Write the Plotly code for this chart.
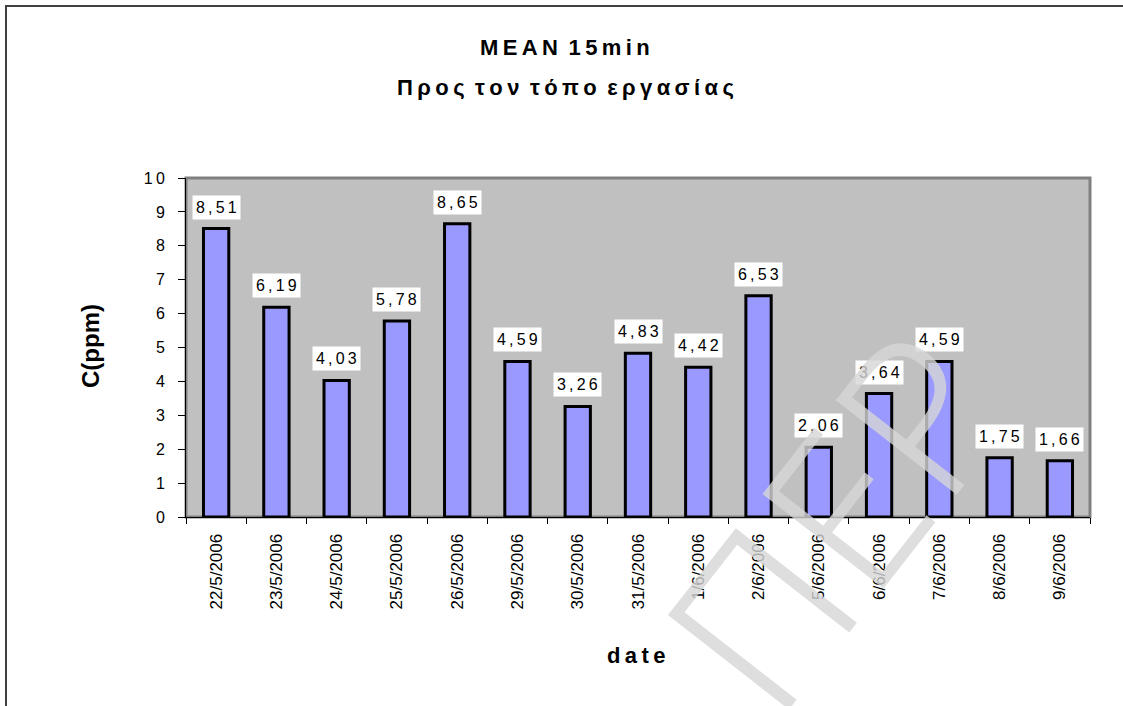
import plotly.graph_objects as go

# Daily mean 15-min concentrations at the workplace
dates = ["22/5/2006", "23/5/2006", "24/5/2006", "25/5/2006", "26/5/2006",
         "29/5/2006", "30/5/2006", "31/5/2006", "1/6/2006", "2/6/2006",
         "5/6/2006", "6/6/2006", "7/6/2006", "8/6/2006", "9/6/2006"]
conc_ppm = [8.51, 6.19, 4.03, 5.78, 8.65, 4.59, 3.26, 4.83, 4.42, 6.53,
            2.06, 3.64, 4.59, 1.75, 1.66]
y_ticks = list(range(0, 11))

W, H = 1123, 706
PL, PR, PT, PB = 186, 1090, 178, 517  # plot area in pixels
FONT = "Liberation Sans, Arial, sans-serif"
TS = "\u2009"  # thin space used for the wide letter spacing


def spaced(s, gap=TS):
    return gap.join(s)


def px(x):
    return (x - PL) / (PR - PL)


def py(y):
    return (PB - y) / (PB - PT)


def label(x, y, text, size, angle=0, family=FONT, color="black"):
    return dict(x=px(x), y=py(y), xref="paper", yref="paper",
                xanchor="center", yanchor="middle", showarrow=False,
                text=text, textangle=angle,
                font=dict(family=family, size=size, color=color))


fig = go.Figure()
fig.add_trace(go.Bar(
    x=dates, y=conc_ppm, width=0.42,
    marker=dict(color="#9999FF", line=dict(color="black", width=3)),
    hoverinfo="x+y",
))

annotations = []
for d, v in zip(dates, conc_ppm):
    annotations.append(dict(
        x=d, y=v, xref="x", yref="y", xanchor="center", yanchor="bottom",
        yshift=9, text=spaced(f"{v:.2f}".replace(".", ",")), showarrow=False,
        bgcolor="white", borderpad=3,
        font=dict(family=FONT, size=16, color="black"),
    ))

title_1 = "<b>" + spaced("MEAN") + " " + TS + spaced("15min") + "</b>"
title_2 = "<b>" + (" " + TS).join(spaced(w) for w in "Προς τον τόπο εργασίας".split()) + "</b>"

annotations += [
    label(565, 48, title_1, 22),
    label(565, 87, title_2, 22),
    label(90, 346, "<b>C(ppm)</b>", 24, angle=-90),
    label(636, 655, "<b>" + spaced("date") + "</b>", 22),
]

# faint diagonal watermark over the lower right
wm = label(832, 518, "ΠΕΡ", 215, angle=-52, family="Noto Sans, DejaVu Sans, sans-serif",
           color="rgba(214,214,214,0.8)")
wm["font"]["weight"] = 300
annotations.append(wm)

shapes = [
    # outer chart frame
    dict(type="rect", xref="paper", yref="paper",
         x0=px(6), x1=px(W + 20), y0=py(6), y1=py(H + 20),
         line=dict(color="#404040", width=2), layer="below"),
    # plot area border
    dict(type="rect", xref="paper", yref="paper",
         x0=0, x1=1, y0=0, y1=1,
         line=dict(color="#808080", width=3), layer="below"),
]

fig.update_layout(
    width=W, height=H,
    margin=dict(l=PL, r=W - PR, t=PT, b=H - PB, pad=0),
    paper_bgcolor="white", plot_bgcolor="#C0C0C0",
    showlegend=False, bargap=0.58,
    annotations=annotations, shapes=shapes,
    font=dict(family=FONT, color="black"),
)
fig.update_xaxes(
    type="category", showgrid=False, showline=True, linecolor="black",
    linewidth=1, ticks="outside", tickson="boundaries", ticklen=6,
    tickcolor="black", tickangle=-90, ticklabelstandoff=9,
    tickfont=dict(family=FONT, size=17, color="black"),
)
fig.update_yaxes(
    range=[0, 10], tickvals=y_ticks,
    ticktext=[spaced(str(t)) for t in y_ticks],
    showgrid=False, showline=True, linecolor="black", linewidth=1,
    ticks="outside", ticklen=7, tickcolor="black", ticklabelstandoff=10,
    tickfont=dict(family=FONT, size=16, color="black"), zeroline=False,
)

fig.write_html("out.html")
